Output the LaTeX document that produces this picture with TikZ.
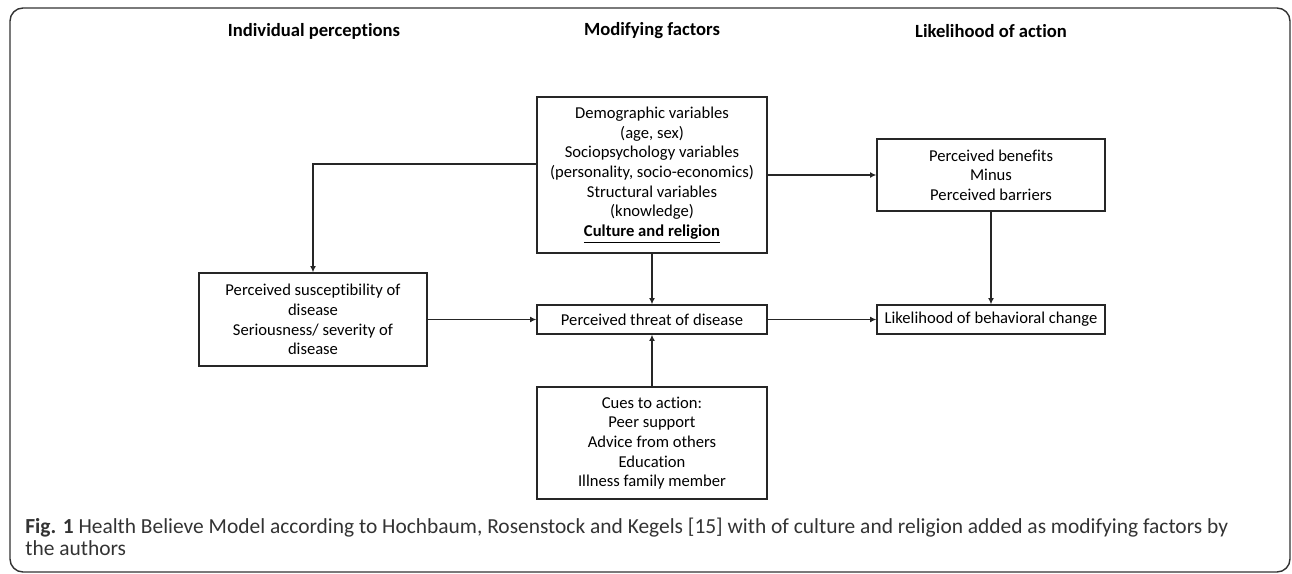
\documentclass[tikz,border=0pt]{standalone}
\usepackage{fontspec}
\setmainfont{Carlito}[RawFeature=-liga]
\usepackage{tikz}
\usetikzlibrary{arrows.meta,positioning}

\begin{document}
\begin{tikzpicture}[x=0.02cm, y=-0.02cm, %
        box/.style={draw=black!85, line width=0.75pt, align=center,
          inner sep=2pt, font=\fontsize{9.45}{11.2}\selectfont},
        head/.style={font=\fontsize{10.6}{12}\selectfont\bfseries},
        arr/.style={draw=black!85, line width=0.75pt, -{Latex[length=3.6pt, width=3.4pt]}}
        ]
        \useasboundingbox (0,0) rectangle (1292,574);
        \draw[black!80, line width=0.8pt, rounded corners=0.26cm] (10,8) rectangle (1290,572);
        % column titles
        \node[head] (hind) at (314,31) {Individual perceptions};
        \node[head] (hmod) at (652,31) {Modifying factors};
        \node[head] (hlik) at (991,31) {Likelihood of action};
        % boxes
        \node[box, minimum width=4.6cm, minimum height=3.12cm] (mod) at (652,175) {%
          Demographic variables\\ (age, sex)\\ Sociopsychology variables\\
          (personality, socio-economics)\\ Structural variables\\ (knowledge)\\
          \underline{\textbf{Culture and religion}}};
        \node[box, minimum width=4.56cm, minimum height=1.44cm] (ben) at (991,175) {%
          Perceived benefits\\ Minus\\ Perceived barriers};
        \node[box, minimum width=4.56cm, minimum height=1.86cm] (sus) at (313,319.5) {%
          Perceived susceptibility of\\ disease\\ Seriousness/ severity of\\ disease};
        \node[box, minimum width=4.6cm, minimum height=0.58cm] (thr) at (652,319.5) {%
          Perceived threat of disease};
        \node[box, minimum width=4.56cm, minimum height=0.58cm] (lik) at (991,319.5) {%
          Likelihood of behavioral change};
        \node[box, minimum width=4.6cm, minimum height=2.24cm] (cue) at (652,443) {%
          Cues to action:\\ Peer support\\ Advice from others\\ Education\\ Illness family member};
        % connectors
        \draw[arr] ([yshift=0.22cm]mod.west) -| (sus.north);
        \draw[arr] (mod.east) -- (ben.west);
        \draw[arr] (mod.south) -- (thr.north);
        \draw[arr] (cue.north) -- (thr.south);
        \draw[arr] (sus.east) -- (thr.west);
        \draw[arr] (thr.east) -- (lik.west);
        \draw[arr] (ben.south) -- (lik.north);
        % caption
        \node[anchor=north west, align=left, inner sep=0pt, text=black!80,
          font=\fontsize{12.2}{12.2}\selectfont] (cap) at (25,518) {%
          \textbf{Fig. 1} Health Believe Model according to Hochbaum, Rosenstock and Kegels [15] with of culture and religion added as modifying factors by\\
          the authors};
      \end{tikzpicture}
\end{document}
